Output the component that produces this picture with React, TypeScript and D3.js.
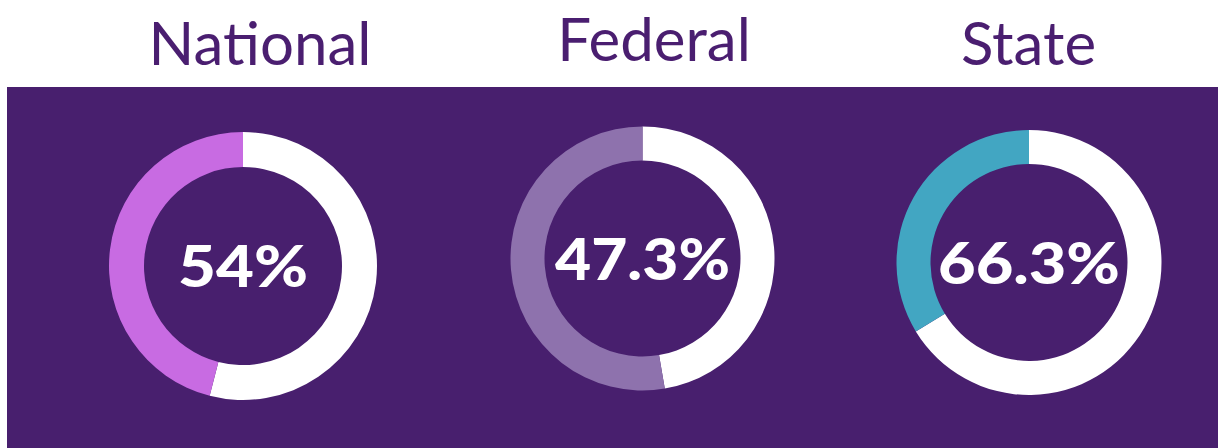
import React from "react";
import * as d3 from "d3";

const categories = ["National", "Federal", "State"];
const values = [54, 47.3, 66.3];
const labels = ["54%", "47.3%", "66.3%"];
const accentColors = ["#c86be2", "#8e72ad", "#42a6c2"];

// layout (not data)
const W = 1223;
const H = 448;
const BG = "#481f6e";
const centers = [
  { x: 243, y: 266, r: 134, ri: 99 },
  { x: 642.5, y: 258.5, r: 132, ri: 98 },
  { x: 1029, y: 262.5, r: 132.5, ri: 98.5 },
];
const titlePos = [
  { x: 260, y: 65 },
  { x: 654, y: 61 },
  { x: 1028.5, y: 65 },
];
const labelLayout = [
  { x: 243, y: 286.5, w: 130 },
  { x: 642.5, y: 280, w: 175 },
  { x: 1029, y: 283.5, w: 182 },
];

export default function App() {
  const angle = d3.scaleLinear().domain([0, 100]).range([0, 2 * Math.PI]);
  return (
    <svg
      width={W}
      height={H}
      style={{ position: "absolute", left: 0, top: 0, display: "block" }}
    >
      <rect x={0} y={0} width={W} height={H} fill="#ffffff" />
      <rect x={7} y={87} width={1211} height={H - 87} fill={BG} />
      {categories.map((cat, i) => {
        const c = centers[i];
        const arc = d3.arc<any>().innerRadius(c.ri).outerRadius(c.r);
        const whitePath = arc({ startAngle: 0, endAngle: angle(values[i]) } as any) as string;
        const restPath = arc({ startAngle: angle(values[i]), endAngle: 2 * Math.PI } as any) as string;
        const L = labelLayout[i];
        return (
          <g key={cat}>
            <text
              x={titlePos[i].x}
              y={titlePos[i].y}
              textAnchor="middle"
              fill="#4a1e70"
              style={{ fontFamily: "Lato, 'Open Sans', sans-serif", fontWeight: 400, fontSize: 60 }}
            >
              {cat}
            </text>
            <g transform={`translate(${c.x},${c.y})`}>
              <path d={whitePath} fill="#ffffff" />
              <path d={restPath} fill={accentColors[i]} />
            </g>
            <text
              x={L.x - L.w / 2}
              y={L.y}
              textLength={L.w}
              lengthAdjust="spacingAndGlyphs"
              fill="#ffffff"
              style={{ fontFamily: "Lato, 'Open Sans', sans-serif", fontWeight: 900, fontSize: 58 }}
            >
              {labels[i]}
            </text>
          </g>
        );
      })}
    </svg>
  );
}
